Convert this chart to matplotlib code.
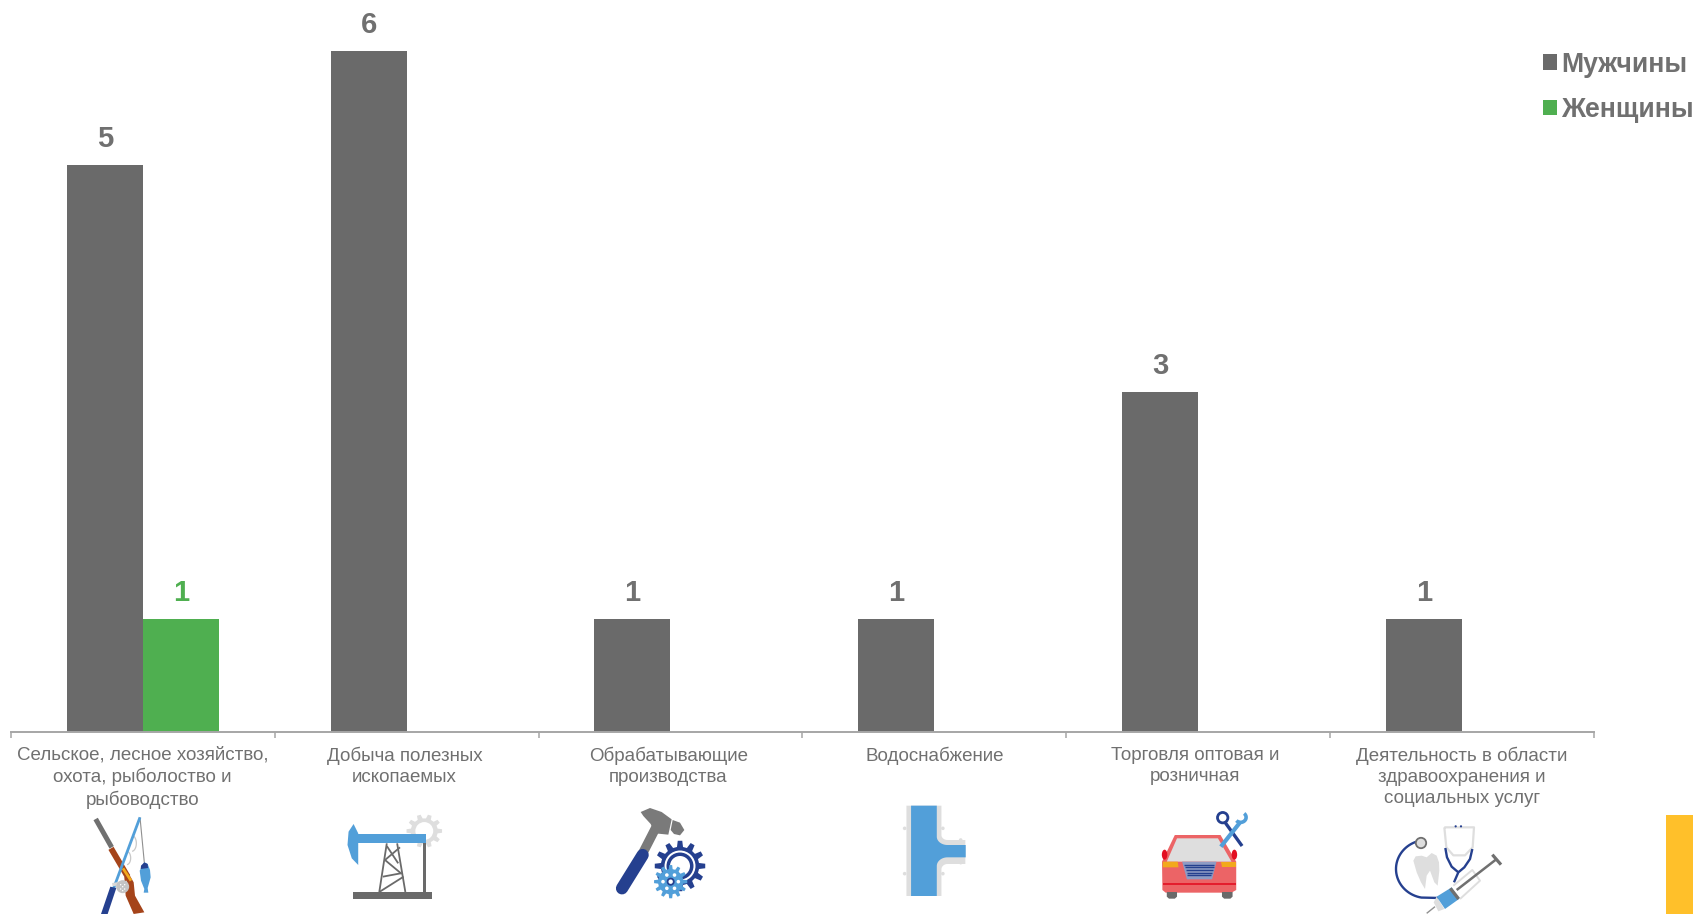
import numpy as np
import matplotlib
matplotlib.use("Agg")
import matplotlib.pyplot as plt
from matplotlib.patches import Polygon, Ellipse, Rectangle, Circle
from matplotlib.transforms import ScaledTranslation

plt.rcParams['font.family'] = ['Liberation Sans', 'DejaVu Sans']

categories = ["Сельское, лесное хозяйство,\nохота, рыболоство и\nрыбоводство",
              "Добыча полезных\nископаемых",
              "Обрабатывающие\nпроизводства",
              "Водоснабжение",
              "Торговля оптовая и\nрозничная",
              "Деятельность в области\nздравоохранения и\nсоциальных услуг"]
men = [5, 6, 1, 1, 3, 1]
women = [1, 0, 0, 0, 0, 0]
series_names = ["Мужчины", "Женщины"]

GREY = '#6A6A6A'; GREEN = '#4FAF50'; TXT = '#707070'; AX = '#A6A6A6'
BLUE = '#529FD9'; NAVY = '#25408F'; LIGHT = '#DEDEDE'; RED = '#EC6466'; BROWN = '#A5441A'; ORANGE = '#F2A91C'

W, H = 1693, 914
fig = plt.figure(figsize=(W/100, H/100), dpi=100, facecolor='white')
x0, x1, yb = 10.8, 1594, 732
ax = fig.add_axes([x0/W, 1-yb/H, (x1-x0)/W, yb/H])
unit = 113.5
ax.set_xlim(0, 6); ax.set_ylim(0, yb/unit)
pos = np.arange(6) + 0.5
bw = 76 / ((x1-x0)/6)
b1 = ax.bar(pos-bw/2, men, bw, color=GREY, label=series_names[0], lw=0)
b2 = ax.bar(pos+bw/2, women, bw, color=GREEN, label=series_names[1], lw=0)
ax.bar_label(b1, padding=8.4, fontsize=21, fontweight='bold', color=TXT)
ax.bar_label(b2, labels=[str(v) if v else '' for v in women], padding=8.4, fontsize=21, fontweight='bold', color=GREEN)
for s in ['top', 'left', 'right']:
    ax.spines[s].set_visible(False)
ax.spines['bottom'].set_color(AX); ax.spines['bottom'].set_linewidth(1.4)
ax.set_yticks([])
ax.set_xticks(np.arange(7))
ax.set_xticklabels([])
ax.tick_params(axis='x', which='major', length=4, width=1.1, color=AX)
ax.set_xticks(pos, minor=True)
ax.set_xticklabels(categories, minor=True, fontsize=13.5, color=TXT, linespacing=1.3)
ax.tick_params(axis='x', which='minor', length=0, pad=10.6)
for lab, dx in zip(ax.get_xticklabels(minor=True), [0, -2.2, -2.2, 0, -3.2, 0]):
    lab.set_transform(lab.get_transform() + ScaledTranslation(dx/100, 0, fig.dpi_scale_trans))
leg = ax.legend(loc='upper left', bbox_to_anchor=(1543/W, 1-51.5/H), bbox_transform=fig.transFigure,
                frameon=False, prop={'size': 19.2, 'weight': 'bold'}, labelcolor=TXT,
                handlelength=0.525, handleheight=0.525, handletextpad=0.17, labelspacing=0.73,
                borderpad=0, borderaxespad=0)

# overlay for decoration, in pixel coordinates
ov = fig.add_axes([0, 0, 1, 1], zorder=5)
ov.set_xlim(0, W); ov.set_ylim(H, 0); ov.axis('off'); ov.patch.set_alpha(0)
ov.add_patch(Rectangle((1666, 815), 27, 99, color='#FFC02A', lw=0))

def T(ox, oy, sx, sy=3.0):
    return lambda pts: [(ox+x/sx, oy+y/sy) for x, y in pts]

def poly(t, pts, c, z=3):
    ov.add_patch(Polygon(t(pts), closed=True, fc=c, ec='none', zorder=z))

def line(t, pts, c, lw, z=3, cap='butt'):
    p = t(pts)
    ov.plot([a for a, _ in p], [b for _, b in p], color=c, lw=lw, zorder=z, solid_capstyle=cap, solid_joinstyle='round')

def disc(t, cx, cy, r, c, z=3, ec='none', lw=0):
    ov.add_patch(Circle(t([(cx, cy)])[0], r, fc=c, ec=ec, lw=lw, zorder=z))

def gear(t, cx, cy, R, n, c, z=3):
    r0 = R*0.76
    pts = []
    for i in range(n):
        a = 2*np.pi*i/n
        d = 2*np.pi/n
        for da, rr in [(-0.30, r0), (-0.17, R), (0.17, R), (0.30, r0)]:
            pts.append((cx+rr*np.cos(a+da*d), cy+rr*np.sin(a+da*d)))
    poly(t, pts, c, z)

def arc_pts(cx, cy, rx, ry, a0, a1, n=40):
    a = np.radians(np.linspace(a0, a1, n))
    return list(zip(cx+rx*np.cos(a), cy+ry*np.sin(a)))

# ---- icon 1: gun, rod and fish
t = T(85, 814, 3)
line(t, [(32, 15), (80, 100)], '#707070', 3.6)
line(t, [(78, 103), (128, 188)], BROWN, 4.3)
line(t, [(114, 163), (138, 200)], ORANGE, 2.0, z=3.5)
poly(t, [(118, 190), (132, 180), (146, 205), (150, 245), (178, 295), (146, 300), (122, 245)], BROWN)
line(t, [(165, 10), (85, 225)], BLUE, 2.0, z=4)
line(t, [(165, 10), (178, 146)], '#909090', 0.8)
poly(t, [(76, 218), (94, 222), (68, 300), (48, 300)], NAVY, z=4)
line(t, [(82, 212), (126, 205)], '#D8D8D8', 2.4, z=4.5)
disc(t, 113, 218, 6.5, '#C4C4C4', z=4.6)
for dx, dy in [(-6, -6), (6, -6), (0, 0), (-6, 7), (6, 7), (0, 12)]:
    disc(t, 113+dx, 218+dy, 0.7, 'white', z=4.7)
line(t, arc_pts(140, 88, 14, 24, -75, 85), '#C8C8C8', 0.9, z=3.8)
line(t, arc_pts(125, 132, 12, 20, -75, 85), '#C8C8C8', 0.9, z=3.8)
poly(t, [(178, 145), (188, 150), (195, 168), (197, 190), (188, 222), (190, 236), (176, 236), (178, 225), (168, 200), (164, 170)], BLUE)
poly(t, [(178, 145), (188, 150), (189, 162), (167, 165), (168, 155)], NAVY, z=3.5)

# ---- icon 2: oil pump
t = T(0, 720, 2.8)
gear(t, 1188, 333, 50, 10, LIGHT, z=2.5)
disc(t, 1188, 333, 25/2.8, 'white', z=2.6)
poly(t, [(1003, 342), (1192, 342), (1192, 368), (1003, 368)], BLUE)
poly(t, [(990, 312), (1003, 340), (1003, 435), (985, 415), (973, 375), (976, 335)], BLUE)
poly(t, [(1183, 368), (1192, 368), (1192, 518), (1183, 518)], GREY)
poly(t, [(988, 516), (1210, 516), (1210, 536), (988, 536)], GREY)
for seg in [[(1083, 370), (1062, 516)], [(1112, 370), (1135, 516)], [(1083, 378), (1115, 430)],
            [(1078, 420), (1120, 382)], [(1072, 470), (1122, 460)], [(1078, 420), (1125, 462)], [(1130, 470), (1062, 516)]]:
    line(t, seg, GREY, 1.3)

# ---- icon 3: hammer and gears
t = T(600, 800, 3)
line(t, [(168, 82), (128, 160)], '#7A7A7A', 6.8)
line(t, [(128, 165), (66, 265)], NAVY, 8.8, cap='round')
poly(t, [(122, 36), (150, 24), (185, 36), (215, 58), (205, 104), (165, 100), (152, 72), (130, 48)], '#7A7A7A')
poly(t, [(218, 60), (240, 68), (253, 90), (240, 106), (222, 102), (212, 90)], '#7A7A7A')
gear(t, 240, 198, 76, 12, NAVY)
disc(t, 240, 198, 15.5, 'white', z=3.1)
disc(t, 240, 198, 13.5, NAVY, z=3.2)
disc(t, 240, 198, 10.0, 'white', z=3.3)
gear(t, 212, 245, 50, 12, BLUE, z=3.5)
disc(t, 212, 245, 4.0, NAVY, z=3.6)
disc(t, 212, 245, 2.2, 'white', z=3.7)
for a in np.arange(0, 360, 60):
    disc(t, 212+23*np.cos(np.radians(a)), 245+23*np.sin(np.radians(a)), 1.8, 'white', z=3.7)

# ---- icon 4: pipe tee
t = T(560, 720, 2.8)
poly(t, [(970, 257), (1068, 257), (1068, 345)] + arc_pts(1085, 345, 17, 15, 180, 90) + [(1135, 360), (1135, 432), (1085, 432)]
     + arc_pts(1085, 448, 17, 16, 270, 180) + [(1068, 528), (970, 528)], LIGHT)
poly(t, [(983, 257), (1055, 257), (1055, 350)] + arc_pts(1085, 350, 30, 25, 180, 90) + [(1136, 375), (1136, 412), (1085, 412)]
     + arc_pts(1085, 438, 30, 26, 270, 180) + [(1055, 528), (983, 528)], BLUE, z=3.2)
for px, py in [(965, 325), (1072, 325), (965, 461), (1072, 461), (1122, 360), (1122, 428)]:
    disc(t, px, py, 1.8, LIGHT)

# ---- icon 5: car and tools
t = T(1120, 720, 2.736)
poly(t, [(115, 425), (150, 345), (275, 345), (318, 425), (318, 510), (305, 518), (125, 518), (116, 510)], RED)
poly(t, [(128, 425), (156, 355), (268, 355), (305, 425)], LIGHT, z=3.1)
poly(t, [(117, 425), (158, 425), (160, 442), (117, 442)], ORANGE, z=3.2)
poly(t, [(275, 425), (317, 425), (317, 442), (278, 442)], ORANGE, z=3.2)
poly(t, [(170, 425), (264, 425), (252, 478), (183, 478)], '#8E9BC4', z=3.2)
for y, xa, xb in zip(range(434, 476, 8), range(176, 186, 2), range(258, 248, -2)):
    line(t, [(xa, y), (xb, y)], NAVY, 1.0, z=3.3)
line(t, [(117, 492), (317, 492)], '#E30F22', 1.2, z=3.3)
ov.add_patch(Ellipse(t([(122, 404)])[0], 5.5, 10, fc='#E30F22', ec='none', zorder=3))
ov.add_patch(Ellipse(t([(313, 404)])[0], 5.5, 10, fc='#E30F22', ec='none', zorder=3))
poly(t, [(128, 516), (156, 516), (156, 530), (150, 536), (134, 536), (128, 530)], GREY)
poly(t, [(279, 516), (308, 516), (308, 530), (302, 536), (285, 536), (279, 530)], GREY)
disc(t, 281, 293, 5.2, 'none', z=4, ec=NAVY, lw=2.0)
line(t, [(288, 308), (334, 378)], NAVY, 2.4, z=4)
line(t, [(330, 305), (276, 380)], BLUE, 3.0, z=4.2)
line(t, arc_pts(330, 292, 15, 15, -50, 140), BLUE, 2.6, z=4.2)

# ---- icon 6: stethoscope, tooth, syringe
t = T(1385, 814, 3)
line(t, [(165, 252)] + arc_pts(125, 165, 92, 87, 100, 255), NAVY, 1.7)
disc(t, 108, 87, 5.2, LIGHT, z=3.5, ec='#6F6F6F', lw=1.3)
poly(t, [(85, 140), (92, 127), (110, 125), (125, 130), (140, 117), (155, 125), (162, 145), (163, 170), (158, 215),
         (148, 205), (135, 170), (125, 185), (120, 225), (108, 205), (95, 175)], LIGHT)
line(t, [(178, 40), (267, 40), (263, 100), (240, 124), (205, 124), (184, 100), (178, 40)], LIGHT, 1.6)
disc(t, 212, 37, 1.1, NAVY, z=4)
disc(t, 228, 37, 1.1, NAVY, z=4)
line(t, [(181, 102), (186, 130), (200, 158), (220, 175)], NAVY, 1.7)
line(t, [(262, 105), (255, 135), (238, 160), (220, 175), (207, 205)], NAVY, 1.7)
poly(t, [(205, 215), (262, 168), (285, 200), (225, 255)], 'white', z=3.6)
line(t, [(205, 215), (262, 168), (285, 200), (225, 255)], LIGHT, 1.4, z=3.7)
line(t, [(215, 228), (335, 135)], '#707070', 1.8, z=4)
line(t, [(322, 122), (348, 152)], '#707070', 2.3, z=4)
poly(t, [(155, 248), (200, 220), (222, 255), (180, 285)], BLUE, z=4.1)
line(t, [(196, 223), (221, 255)], '#707070', 2.4, z=4.2)
poly(t, [(155, 248), (178, 285), (160, 292), (146, 265)], LIGHT, z=4)
line(t, [(150, 278), (125, 298)], '#909090', 1.0, z=4)

fig.savefig('out.png', dpi=100)
